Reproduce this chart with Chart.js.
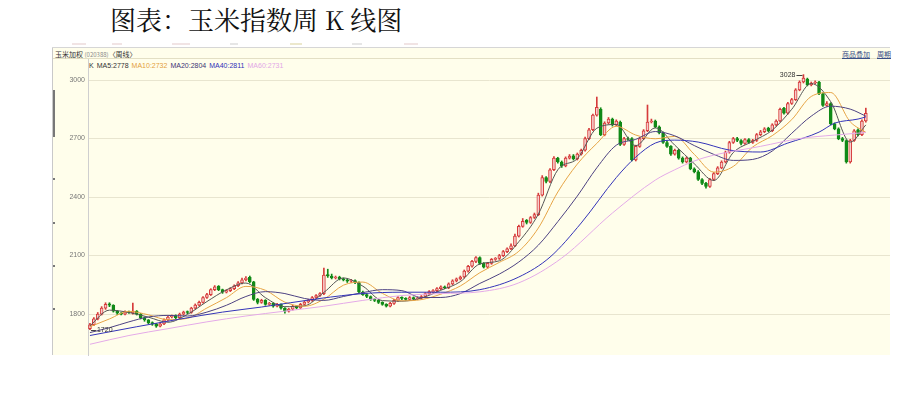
<!DOCTYPE html>
<html>
<head>
<meta charset="utf-8">
<script src="https://cdn.jsdelivr.net/npm/chart.js@4"></script>
<style>
  body { margin: 0; width: 907px; height: 398px; background: #fff; position: relative; overflow: hidden;
         font-family: "Liberation Sans", Arial, sans-serif; }
  #title { position: absolute; left: 110px; top: 6px; line-height: 26px; font-size: 26px; color: #111;
           font-family: "Noto Serif CJK SC", "Noto Sans CJK SC", serif; white-space: nowrap; }
  #toolbar { position: absolute; left: 52px; top: 40px; width: 838px; height: 7px; border-bottom: 1px solid #d6d6d6; }
  #toolbar i { position: absolute; top: 3px; height: 2px; background: #f1e4e4; }
  #frame { position: absolute; left: 52px; top: 48px; width: 838px; height: 307px; background: #fffeeb;
           border-left: 1px solid #c9c9c9; box-sizing: border-box; }
  #head { position: absolute; left: 0; top: 0; width: 838px; height: 10px; border-bottom: 1px solid #e3dfc4; }
  #head .l { position: absolute; left: 2px; top: 1px; font: 7px "Noto Sans CJK SC"; color: #333; white-space: nowrap; }
  #head .l span { color: #888; font-size: 6px; }
  #head .r { position: absolute; top: 1px; font: 7px "Noto Sans CJK SC"; color: #3a4f86; text-decoration: underline;
             white-space: nowrap; }
  #legend { position: absolute; left: 36px; top: 14px; font-size: 7px; line-height: 8px; white-space: nowrap; }
  #legend span { margin-right: 3px; }
  .bar { position: absolute; left: 0; width: 2px; background: #777; }
  canvas { position: absolute; left: 52px; top: 51px; }
</style>
</head>
<body>
<div id="title">图表：玉米指数周 K 线图</div>
<div id="toolbar">
  <i style="left:20px;width:14px"></i><i style="left:60px;width:10px"></i><i style="left:120px;width:18px"></i>
  <i style="left:178px;width:8px;background:#e6e6e6"></i><i style="left:238px;width:12px;background:#ece8cc"></i>
  <i style="left:300px;width:10px;background:#e6e6e6"></i><i style="left:352px;width:14px"></i>
</div>
<div id="frame">
  <div id="head">
    <div class="l">玉米加权 <span>(020388)</span>〈周线〉</div>
    <div class="r" style="left:789px">商品叠加</div>
    <div class="r" style="left:824px">周期</div>
  </div>
  <div id="legend">
    <span style="color:#333">K</span><span style="color:#333">MA5:2778</span><span style="color:#e3a03c">MA10:2732</span><span style="color:#3d3474">MA20:2804</span><span style="color:#3030b8">MA40:2811</span><span style="color:#e2a6e6">MA60:2731</span>
  </div>
  <div class="bar" style="top:42px;height:47px"></div>
  <div class="bar" style="top:130px;height:2px"></div>
  <div class="bar" style="top:174px;height:2px"></div>
  <div class="bar" style="top:217px;height:2px"></div>
  <div class="bar" style="top:260px;height:2px"></div>
</div>
<canvas id="kChart" width="838" height="312"></canvas>
<script>
  const yTicks = [1800, 2100, 2400, 2700, 3000];

  const opens = [
    1725,1745,1775,1800,1830,1852,1845,1815,1805,1800,
    1812,1806,1815,1800,1782,1770,1756,1750,1738,1750,
    1770,1785,1792,1782,1800,1812,1808,1830,1846,1860,
    1885,1900,1925,1942,1925,1912,1920,1930,1945,1960,
    1975,1988,1965,1875,1860,1870,1850,1855,1840,1850,
    1830,1815,1825,1840,1832,1850,1862,1870,1885,1895,
    1905,2002,1995,1985,1990,1980,1975,1968,1972,1962,
    1913,1900,1890,1875,1870,1860,1850,1840,1855,1870,
    1885,1880,1875,1885,1878,1882,1890,1905,1915,1920,
    1930,1940,1935,1955,1970,1980,1990,2020,2045,2070,
    2090,2060,2040,2060,2080,2085,2100,2120,2135,2150,
    2200,2250,2280,2270,2295,2310,2410,2500,2480,2540,
    2600,2580,2560,2600,2612,2595,2620,2640,2700,2745,
    2820,2850,2720,2780,2800,2770,2785,2670,2700,2700,
    2590,2660,2700,2740,2785,2790,2760,2730,2680,2660,
    2620,2640,2600,2580,2600,2545,2530,2490,2470,2455,
    2490,2520,2550,2580,2630,2680,2700,2690,2675,2695,
    2680,2690,2720,2735,2752,2740,2770,2790,2855,2830,
    2880,2900,2950,2990,3005,2975,2985,2990,2930,2870,
    2880,2775,2750,2700,2690,2580,2690,2745,2720,2790
  ];
  const closes = [
    1745,1775,1800,1830,1850,1845,1815,1805,1800,1812,
    1808,1815,1800,1780,1770,1755,1748,1738,1750,1770,
    1785,1790,1782,1800,1810,1808,1830,1846,1860,1885,
    1900,1925,1940,1925,1912,1920,1930,1945,1960,1975,
    1985,1965,1875,1860,1870,1850,1855,1840,1850,1830,
    1815,1825,1840,1832,1850,1862,1870,1885,1895,1905,
    2000,1995,1985,1990,1980,1975,1968,1972,1962,1913,
    1900,1890,1875,1870,1860,1850,1840,1855,1870,1885,
    1880,1875,1885,1878,1882,1890,1905,1915,1920,1930,
    1940,1935,1955,1970,1980,1990,2020,2045,2070,2090,
    2060,2040,2060,2080,2085,2100,2120,2135,2150,2200,
    2250,2275,2270,2295,2310,2410,2500,2480,2540,2600,
    2580,2560,2600,2610,2595,2620,2640,2700,2745,2820,
    2860,2720,2780,2800,2770,2790,2670,2700,2695,2590,
    2660,2700,2740,2785,2790,2760,2730,2680,2660,2620,
    2640,2600,2580,2600,2545,2530,2490,2470,2455,2490,
    2520,2550,2580,2630,2680,2700,2690,2675,2695,2680,
    2690,2720,2735,2750,2740,2770,2790,2850,2830,2880,
    2900,2950,2990,3010,2975,2985,2990,2930,2870,2880,
    2775,2750,2700,2690,2580,2690,2740,2720,2790,2830
  ];
  const highs = [
    1752,1782,1808,1838,1858,1858,1848,1818,1808,1816,
    1815,1856,1818,1803,1785,1772,1760,1752,1756,1775,
    1790,1795,1796,1805,1815,1816,1835,1852,1866,1890,
    1906,1930,1946,1946,1928,1925,1935,1950,1966,1985,
    1992,1995,1968,1880,1876,1874,1860,1858,1855,1853,
    1833,1830,1845,1843,1855,1867,1876,1890,1900,1910,
    2036,2030,2005,1995,1994,1985,1978,1978,1976,1965,
    1918,1905,1893,1880,1874,1863,1853,1860,1875,1890,
    1888,1884,1890,1888,1886,1895,1910,1920,1925,1936,
    1945,1944,1960,1976,1985,1995,2026,2050,2076,2095,
    2094,2064,2065,2085,2090,2106,2126,2140,2160,2210,
    2256,2290,2285,2300,2318,2420,2510,2505,2546,2608,
    2604,2585,2606,2618,2618,2626,2646,2708,2752,2826,
    2913,2858,2786,2808,2805,2796,2790,2706,2708,2705,
    2666,2706,2746,2872,2800,2795,2765,2735,2688,2664,
    2646,2645,2606,2606,2604,2550,2536,2495,2476,2496,
    2526,2556,2586,2636,2686,2706,2706,2695,2700,2700,
    2696,2726,2742,2756,2758,2776,2796,2856,2860,2886,
    2906,2956,2996,3028,3010,2990,2996,2994,2935,2890,
    2884,2780,2755,2706,2694,2696,2746,2750,2796,2856
  ];
  const lows = [
    1720,1740,1770,1795,1824,1838,1810,1798,1795,1796,
    1803,1800,1795,1775,1763,1750,1742,1732,1734,1746,
    1765,1780,1776,1778,1795,1802,1804,1826,1842,1856,
    1880,1895,1920,1920,1906,1908,1915,1925,1940,1955,
    1970,1960,1870,1852,1855,1845,1845,1835,1836,1825,
    1805,1810,1820,1826,1828,1845,1857,1865,1880,1890,
    1900,1988,1980,1980,1975,1970,1962,1962,1956,1908,
    1895,1884,1870,1864,1854,1845,1836,1836,1850,1865,
    1874,1870,1870,1872,1874,1876,1886,1900,1910,1915,
    1925,1930,1930,1950,1965,1975,1985,2015,2040,2064,
    2055,2036,2036,2055,2075,2080,2095,2115,2130,2145,
    2195,2245,2262,2265,2290,2305,2405,2472,2474,2535,
    2574,2552,2555,2595,2590,2590,2615,2635,2694,2740,
    2815,2715,2714,2775,2764,2765,2664,2665,2690,2585,
    2585,2655,2695,2735,2780,2755,2724,2675,2654,2614,
    2615,2594,2574,2575,2540,2524,2485,2464,2446,2450,
    2484,2515,2545,2575,2625,2675,2684,2668,2670,2676,
    2675,2685,2715,2730,2735,2735,2765,2785,2825,2825,
    2875,2895,2945,2985,2970,2970,2980,2925,2865,2866,
    2770,2745,2694,2684,2574,2574,2685,2714,2715,2784
  ];

  const maWeeks = [0,5,10,15,20,25,30,35,40,45,50,55,60,65,70,75,80,85,90,95,
                   100,105,110,115,120,125,130,135,140,145,150,155,160,165,170,175,180,185,190,195,199];
  const ma5 = [1740,1820,1808,1784,1758,1798,1864,1924,1959,1884,1838,1842,1911,1985,1943,1869,1866,1882,1922,1966,
               2057,2073,2171,2312,2540,2597,2753,2772,2663,2755,2666,2571,2485,2628,2686,2743,2850,2982,2889,2682,2770];
  const ma10 = [1735,1775,1814,1796,1771,1778,1831,1884,1942,1922,1861,1840,1876,1948,1964,1906,1868,1874,1902,1944,
                2012,2065,2122,2241,2426,2569,2675,2763,2718,2699,2711,2619,2528,2557,2657,2715,2797,2916,2936,2786,2732];
  const ma20 = [1705,1730,1760,1785,1793,1790,1810,1845,1890,1915,1905,1880,1870,1890,1910,1925,1920,1885,1885,1905,
                1957,2005,2067,2153,2274,2405,2550,2666,2696,2736,2714,2664,2619,2588,2593,2636,2727,2815,2866,2851,2815];
  const ma40Weeks = [0,12,23,34,44,59,70,80,90,100,110,118,126,135,140,145,150,156,164,172,179,187,191,197,199];
  const ma40 = [1690,1735,1774,1810,1836,1880,1905,1912,1912,1925,1990,2092,2267,2500,2605,2677,2692,2682,2641,2631,2677,2733,2779,2800,2811];
  const ma60Weeks = [0,10,20,30,40,50,60,70,80,90,100,110,121,134,145,150,155,160,172,182,191,199];
  const ma60 = [1645,1690,1725,1760,1790,1815,1840,1870,1895,1905,1914,1960,2087,2318,2487,2540,2585,2615,2660,2700,2718,2731];

  const upFill = "#f6cdcb", upLine = "#d63b3b", downFill = "#118a17";
  const isUp = closes.map((c, i) => c >= opens[i]);

  function maLine(label, weeks, values, color) {
    return {
      type: "line",
      label: label,
      data: weeks.map((w, k) => ({ x: w, y: values[k] })),
      borderColor: color,
      borderWidth: 1,
      pointRadius: 0,
      cubicInterpolationMode: "monotone",
      order: 0
    };
  }

  const markPlugin = {
    id: "marks",
    afterDatasetsDraw(chart) {
      const { ctx, scales } = chart;
      const hi = highs.indexOf(Math.max(...highs));
      const lo = lows.indexOf(Math.min(...lows));
      ctx.save();
      ctx.font = '7px "Liberation Sans"';
      ctx.fillStyle = "#333";
      ctx.strokeStyle = "#444";
      ctx.lineWidth = 1;
      ctx.textBaseline = "middle";

      let px = scales.x.getPixelForValue(hi);
      let py = Math.round(scales.y.getPixelForValue(highs[hi])) + 0.5;
      ctx.beginPath(); ctx.moveTo(px - 7, py); ctx.lineTo(px - 1, py); ctx.stroke();
      ctx.textAlign = "right";
      ctx.fillText(String(highs[hi]), px - 8, py);

      px = scales.x.getPixelForValue(lo);
      py = Math.round(scales.y.getPixelForValue(lows[lo])) + 0.5;
      ctx.beginPath(); ctx.moveTo(px + 1, py); ctx.lineTo(px + 6, py); ctx.stroke();
      ctx.textAlign = "left";
      ctx.fillText(String(lows[lo]), px + 7, py);
      ctx.restore();
    }
  };

  const ctx = document.getElementById("kChart").getContext("2d");

  new Chart(ctx, {
    type: "bar",
    data: {
      datasets: [
        maLine("MA60", ma60Weeks, ma60, "#e4aae8"),
        maLine("MA40", ma40Weeks, ma40, "#3434b8"),
        maLine("MA20", maWeeks, ma20, "#4d4282"),
        maLine("MA10", maWeeks, ma10, "#e6a445"),
        maLine("MA5", maWeeks, ma5, "#555555"),
        {
          label: "body",
          data: closes.map((c, i) => ({ x: i, y: [opens[i], c] })),
          backgroundColor: isUp.map(u => u ? upFill : downFill),
          borderColor: isUp.map(u => u ? upLine : downFill),
          borderWidth: 1,
          borderSkipped: false,
          barThickness: 3,
          minBarLength: 1,
          grouped: false,
          order: 1
        },
        {
          label: "wick",
          data: closes.map((c, i) => ({ x: i, y: [lows[i], highs[i]] })),
          backgroundColor: isUp.map(u => u ? upLine : downFill),
          borderWidth: 0,
          barThickness: 1,
          grouped: false,
          order: 2
        }
      ]
    },
    options: {
      responsive: false,
      animation: false,
      layout: { padding: { top: 8, bottom: 8, left: 0, right: 0 } },
      plugins: { legend: { display: false }, tooltip: { enabled: false } },
      scales: {
        x: {
          type: "linear",
          min: -0.5,
          max: 205.2,
          offset: false,
          display: false
        },
        y: {
          min: 1590,
          max: 3108,
          afterBuildTicks: s => { s.ticks = yTicks.map(v => ({ value: v })); },
          afterFit: s => { s.width = 36; },
          grid: { color: "#e8e5cf", drawTicks: false },
          border: { color: "#cfcfcf" },
          ticks: {
            color: "#777",
            padding: 3,
            font: { size: 7, family: "Liberation Sans" },
            callback: v => String(v)
          }
        }
      }
    },
    plugins: [markPlugin]
  });
</script>
</body>
</html>
